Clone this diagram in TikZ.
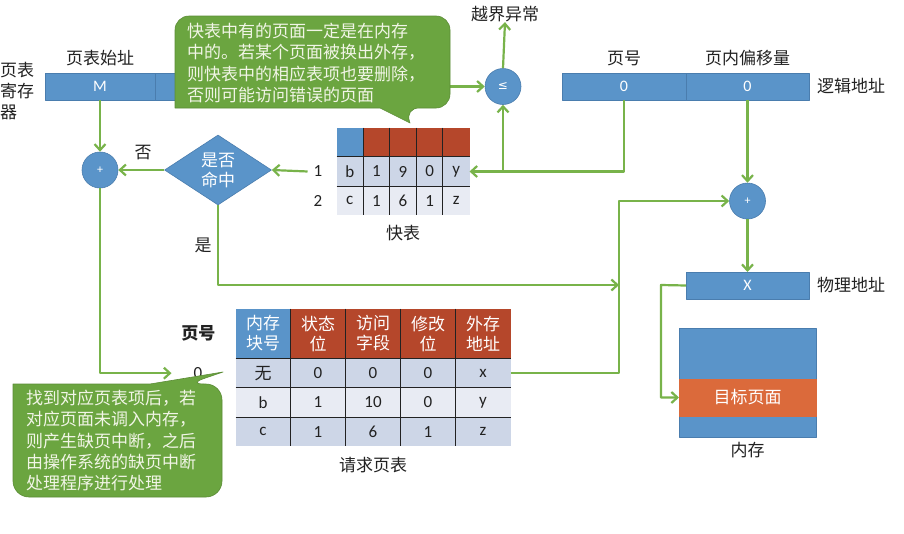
\documentclass[tikz,border=0pt]{standalone}
\usepackage{fontspec}
\setmainfont{Noto Sans CJK SC}
\newfontfamily\latin{Carlito}
\newfontfamily\symb{DejaVu Sans}
\usetikzlibrary{arrows.meta,positioning,shapes.geometric,matrix}
\definecolor{ink}{HTML}{222222}
\definecolor{boxblue}{HTML}{5A94C9}
\definecolor{barline}{HTML}{4A7DAE}
\definecolor{hdrred}{HTML}{B5472B}
\definecolor{pagered}{HTML}{DB6A3B}
\definecolor{rowdark}{HTML}{CDD6E7}
\definecolor{rowlight}{HTML}{E8EBF3}
\definecolor{flow}{HTML}{78B34A}
\definecolor{notefill}{HTML}{6BA540}
\definecolor{noteline}{HTML}{5B8C36}
\definecolor{notetext}{HTML}{F1F5E6}
\newcommand\lblsize{\fontsize{17pt}{21.3pt}\selectfont}
\tikzset{
  arr/.style={-{Straight Barb[length=6pt,width=11pt]}, line width=2.2pt, draw=flow},
  figbase/.style={
    font=\lblsize,
    color=ink,
    line join=round,
  },
  bar/.style={
    draw=barline, line width=0.6pt, fill=boxblue,
    text=white, inner sep=0pt, outer sep=0pt,
    minimum height=27pt,
    font=\fontsize{16pt}{18pt}\selectfont\latin,
  },
  pagebox/.style={bar, fill=pagered, draw=pagered, font=\lblsize},
  circ/.style={
    circle, draw=barline, line width=0.6pt, fill=boxblue,
    text=white, minimum size=36pt, inner sep=0pt,
    font=\fontsize{12pt}{14pt}\selectfont\latin,
  },
  decide/.style={
    diamond, aspect=1.53, fill=boxblue, draw=barline, line width=0.6pt,
    text=white, minimum width=107pt, minimum height=70pt,
    inner sep=0pt, align=center, font=\fontsize{17pt}{20pt}\selectfont,
  },
  cell/.style={inner sep=0pt, outer sep=0pt, anchor=center, text=ink},
  hdr/.style={fill=hdrred, minimum height=50pt, text=white,
    text width=55pt, align=center, font=\fontsize{17pt}{20pt}\selectfont},
  hdrblue/.style={hdr, fill=boxblue},
  divider/.style={draw=ink, line width=0.9pt},
  lab/.style={text=ink, inner sep=0pt, align=center},
  callout/.style={fill=notefill, draw=noteline, line width=0.6pt},
  calltext/.style={text=notetext, inner sep=0pt, align=left,
    font=\fontsize{17pt}{21.3pt}\selectfont},
}

\begin{document}
\begin{tikzpicture}[figbase, x=1pt, y=-1pt]
  \useasboundingbox[fill=white] (0,0) rectangle (904,533);

  % page table register
  \node[bar, minimum width=110pt, anchor=north west] (m) at (45,73) {M};
  \node[bar, minimum width=100pt, right=0pt of m] (len) {};
  \node[lab, above=7pt of m] (mlab) {页表始址};
  \node[lab, align=left, anchor=west] (reg) at (0,91) {页表\\寄存\\器};

  % logical address
  \node[bar, minimum width=124pt, anchor=north west] (pn) at (562,73) {0};
  \node[bar, minimum width=123pt, right=0pt of pn] (off) {0};
  \node[lab, above=7pt of pn] (pnlab) {页号};
  \node[lab, above=7pt of off] (offlab) {页内偏移量};
  \node[lab, right=8pt of off] (lalab) {逻辑地址};

  % comparators and adders
  \node[circ, font=\fontsize{12pt}{14pt}\selectfont\symb] (le) at (503,86.5) {≤};
  \node[lab] (exc) at (505,14) {越界异常};
  \node[circ] (addl) at (100,170) {+};
  \node[circ] (adr) at (747.5,201) {+};
  \node[decide] (hit) at (218,170) {是否\\命中};
  \node[lab] (no) at (143,153) {否};
  \node[lab] (yes) at (203,245) {是};

  % TLB
  \matrix (qt) [matrix of nodes, nodes in empty cells, anchor=north west,
    row sep=0pt, column sep=0pt,
    nodes={cell, minimum width=26.6pt, minimum height=29.3pt, font=\lblsize\latin},
    row 1/.style={nodes={fill=hdrred}},
    row 2/.style={nodes={fill=rowdark}},
    row 3/.style={nodes={fill=rowlight}},
    row 1 column 1/.style={nodes={fill=boxblue}},
  ] at (333,124) {
      &   &   &   &   \\
    b & 1 & 9 & 0 & y \\
    c & 1 & 6 & 1 & z \\
  };
  \foreach \c in {1,...,4}
    \draw[divider] (qt-1-\c.north east) -- (qt-3-\c.south east);
  \foreach \r in {1,2}
    \draw[divider] (qt-\r-1.south west) -- (qt-\r-5.south east);
  \node[lab, font=\lblsize\latin, left=14pt of qt-2-1] (r1) {1};
  \node[lab, font=\lblsize\latin, left=14pt of qt-3-1] (r2) {2};
  \node[lab, below=6pt of qt] (qtlab) {快表};

  % page table
  \matrix (pt) [matrix of nodes, anchor=north west,
    row sep=0pt, column sep=0pt,
    nodes={cell, minimum width=55pt, minimum height=29.3pt, font=\lblsize\latin},
    row 2/.style={nodes={fill=rowdark}},
    row 3/.style={nodes={fill=rowlight}},
    row 4/.style={nodes={fill=rowdark}},
  ] at (232,305) {
    |[hdrblue]| {内存\\块号} & |[hdr]| {状态\\位} & |[hdr]| {访问\\字段} & |[hdr]| {修改\\位} & |[hdr]| {外存\\地址} \\
    |[font=\lblsize]| 无 & 0 & 0 & 0 & x \\
    b & 1 & 10 & 0 & y \\
    c & 1 & 6 & 1 & z \\
  };
  \foreach \c in {1,...,4}
    \draw[divider] (pt-1-\c.north east) -- (pt-4-\c.south east);
  \foreach \r in {1,2,3}
    \draw[divider] (pt-\r-1.south west) -- (pt-\r-5.south east);
  \node[lab, font=\lblsize\bfseries, left=20pt of pt-1-1] (pnhead) {页号};
  \node[lab, font=\lblsize\latin, left=33pt of pt-2-1] (p0) {0};
  \node[lab, below=7pt of pt] (ptlab) {请求页表};

  % physical address and memory
  \node[bar, minimum width=123pt, anchor=north west] (pa) at (686,272) {X};
  \node[lab, right=8pt of pa] (palab) {物理地址};
  \node[bar, minimum width=137pt, minimum height=109pt, anchor=north west] (mem) at (679,328) {};
  \node[pagebox, minimum width=137pt, minimum height=37pt, anchor=north west] (tgt) at (679,379) {目标页面};
  \node[lab, below=5pt of mem] (memlab) {内存};

  \coordinate (br) at (le |- qt-2-5.east);
  \coordinate (jx) at (619,201);
  \coordinate (jy) at (619,285);
  \coordinate (mk) at (661,285);

  % connectors
  \draw[arr] (len.east) -- (le.west);
  \draw[arr] (le.north) -- (exc.south);
  \draw[arr] (pn.south) |- (qt-2-5.east);
  \draw[arr] (br) -- (le.south);
  \draw[arr] (r1.west) ++(-6pt,0) -- (hit.east);
  \draw[arr] (hit.west) -- (addl.east);
  \draw[arr] (m.south) -- (addl.north);
  \draw[arr, shorten >=22pt] (addl.south) |- (p0.west);
  \draw[arr] (hit.south) |- (jy);
  \draw[arr] (pt-2-5.east) -| (jx) -- (adr.west);
  \draw[arr] (off.south) -- (adr.north);
  \draw[arr] (adr.south) -- (pa.north);
  \draw[arr] (pa.west) -- (mk) |- (tgt.west);

  % callouts
  \path[callout] (300,16) [rounded corners=14pt] -- (450,16) -- (450,108)
    -- (405,108) [sharp corners] -- (410,123) -- (380,108) -- (175,108)
    [rounded corners=14pt] -- (175,16) -- cycle;
  \node[calltext, anchor=north west] (note1) at (187,23)
    {快表中有的页面一定是在内存\\中的。若某个页面被换出外存，\\则快表中的相应表项也要删除，\\否则可能访问错误的页面};
  \path[callout] (100,497) [rounded corners=16pt] -- (222,497) -- (222,384)
    -- (188,384) [sharp corners] -- (223,372) -- (150,384) -- (13,384)
    [rounded corners=16pt] -- (13,497) -- cycle;
  \node[calltext, anchor=north west] (note2) at (26,390)
    {找到对应页表项后，若\\对应页面未调入内存，\\则产生缺页中断，之后\\由操作系统的缺页中断\\处理程序进行处理};
\end{tikzpicture}
\end{document}
